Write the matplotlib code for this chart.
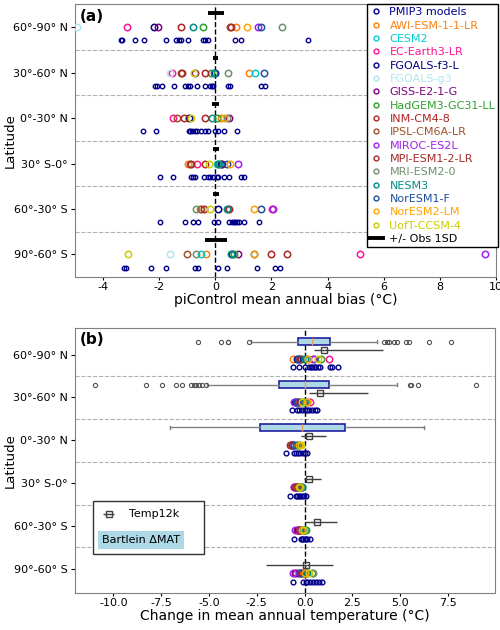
import numpy as np
import matplotlib
matplotlib.use('Agg')
import matplotlib.pyplot as plt
from matplotlib.lines import Line2D
from matplotlib.patches import Patch

plt.rcParams['axes.unicode_minus'] = False

nan = np.nan

regions = ['60°-90° N', '30°-60° N', '0°-30° N', '30° S-0°', '60°-30° S', '90°-60° S']

models = ['AWI-ESM-1-1-LR', 'CESM2', 'EC-Earth3-LR', 'FGOALS-f3-L', 'FGOALS-g3',
          'GISS-E2-1-G', 'HadGEM3-GC31-LL', 'INM-CM4-8', 'IPSL-CM6A-LR', 'MIROC-ES2L',
          'MPI-ESM1-2-LR', 'MRI-ESM2-0', 'NESM3', 'NorESM1-F', 'NorESM2-LM', 'UofT-CCSM-4']
colors = ['#ff7f0e', 'darkturquoise', 'deeppink', 'navy', '#b0e6f0',
          'purple', '#2ca02c', 'firebrick', 'sienna', '#a020f0',
          'brown', '#6e8f6e', 'darkcyan', '#1f4e9c', 'orange', '#cccc00']
pmip_color = 'darkblue'

# (a) piControl bias, one value per model (order as in `models`)
a_6090n = [0.73, nan, -3.15, -2.20, -4.94, -2.05, -0.45, -1.24, 0.51, 1.52, 0.57, 2.39, -0.81, 1.64, 1.14, nan]
a_3060n = [1.19, 1.43, -1.54, 0.00, -1.63, -0.74, -0.14, -0.36, -1.21, nan, -1.19, 0.45, -0.06, 1.73, nan, -0.77]
a_0030n = [0.20, nan, -1.51, -0.95, nan, 0.48, 0.06, -0.36, -1.35, nan, -1.13, 0.43, -0.12, nan, 0.30, -0.86]
a_3000s = [-0.98, 0.06, -0.64, 0.20, nan, 0.24, 0.10, -0.38, -0.92, 0.81, -0.85, nan, 0.12, 0.42, 0.54, -0.21]
a_6030s = [-0.56, nan, 2.02, 0.10, nan, nan, 0.45, 0.50, -0.50, 2.06, -0.42, -0.69, 0.42, 1.61, 1.37, -0.18]
a_9060s = [-0.32, -0.51, 5.14, 0.58, -1.63, 0.81, 0.65, 1.99, -1.00, 9.61, 2.54, -0.68, 0.57, 1.38, 1.37, -3.12]

pa_6090n = [-3.36, -3.33, -2.88, -2.55, -1.76, -1.40, -1.31, -1.21, -0.98, -0.45, -0.36, -0.26, 0.69, 0.93, 3.30]
pa_3060n = [-2.14, -2.08, -1.90, -1.48, -1.07, -0.98, -0.89, -0.64, -0.38, -0.18, -0.12, -0.10, 0.45, 0.54, 1.61, 1.76]
pa_0030n = [-2.56, -2.10, -0.95, -0.89, -0.83, -0.74, -0.64, -0.50, -0.36, -0.26, 0.00, 0.10, 0.32, 0.76]
pa_3000s = [-1.96, -1.51, -0.86, -0.80, -0.74, -0.42, -0.26, -0.18, -0.08, 0.06, 0.10, 0.30, 0.50, 0.93, 1.01]
pa_6030s = [-1.96, -1.07, -0.81, -0.60, -0.06, 0.10, 0.50, 0.60, 0.65, 0.71, 0.77, 0.83, 1.01, 1.55]
pa_9060s = [-3.27, -3.18, -2.29, -1.75, -0.71, -0.62, 0.10, 0.42, 1.49, 2.14, 2.29]

obs_mean = [0.02, 0.01, 0.01, 0.02, 0.02, 0.02]
obs_sd = [0.29, 0.10, 0.13, 0.10, 0.10, 0.40]

# (b) change in mean annual temperature
b_6090n = [-0.63, -0.10, 1.28, -0.42, nan, 0.45, 0.85, -0.20, -0.30, 0.50, -0.25, 0.10, 0.03, -0.35, 0.20, 0.68]
b_3060n = [-0.10, 0.00, 0.30, -0.50, nan, -0.45, 0.10, -0.35, -0.30, -0.55, -0.25, 0.05, -0.05, -0.40, 0.15, -0.15]
b_0030n = [-0.40, -0.30, -0.65, -0.60, nan, -0.70, -0.35, -0.75, -0.72, -0.62, -0.68, -0.30, -0.45, -0.55, -0.30, -0.20]
b_3000s = [-0.35, -0.15, -0.45, -0.40, nan, -0.55, -0.20, -0.40, -0.45, -0.55, -0.50, -0.25, -0.15, -0.30, -0.25, -0.30]
b_6030s = [-0.20, -0.05, -0.30, -0.35, nan, -0.40, 0.05, -0.30, -0.25, -0.48, -0.28, -0.10, 0.00, -0.15, -0.12, -0.05]
b_9060s = [-0.10, 0.05, -0.45, -0.30, nan, -0.50, 0.40, -0.20, -0.05, -0.60, -0.15, 0.45, 0.10, -0.25, 0.00, 0.25]

pb_6090n = [-0.63, -0.28, 0.00, 0.21, 0.35, 0.38, 0.52, 0.55, 0.68, 0.82, 1.35, 1.42, 1.72]
pb_3060n = [-0.66, -0.40, -0.28, -0.14, 0.00, 0.12, 0.24, 0.38, 0.52, 0.64]
pb_0030n = [-0.95, -0.57, -0.45, -0.33, -0.22, -0.10, 0.00, 0.12]
pb_3000s = [-0.78, -0.45, -0.38, -0.30, -0.22, -0.15, -0.05, 0.07]
pb_6030s = [-0.56, -0.21, -0.15, -0.08, 0.00, 0.08, 0.15, 0.26]
pb_9060s = [-0.61, -0.07, 0.05, 0.15, 0.30, 0.45, 0.60, 0.75, 0.92]

temp12k_mid = [1.02, 0.83, 0.23, 0.23, 0.66, 0.05]
temp12k_lo = [0.47, 0.24, -0.17, -0.05, 0.00, -2.00]
temp12k_hi = [4.11, 3.30, 1.11, 0.85, 1.70, 1.48]

# Bartlein boxes (only the three northern bands)
bart_whislo = [-2.78, -5.12, -7.03]
bart_q1 = [-0.35, -1.32, -2.31]
bart_med = [0.38, 0.00, -0.14]
bart_q3 = [1.35, 1.28, 2.12]
bart_whishi = [3.80, 4.81, 6.23]
bart_fliers_6090n = [-5.59, -4.36, -4.03, -3.98, -2.92, 4.15, 4.32, 4.41, 4.69, 4.81, 5.30, 5.47, 6.49, 7.67]
bart_fliers_3060n = [-10.94, -8.30, -7.47, -6.74, -6.39, -5.95, -5.78, -5.66, -5.52, -5.35, -5.17,
                     5.50, 5.56, 5.94, 8.98]
bart_fliers_0030n = []

bias_a = np.array([a_6090n, a_3060n, a_0030n, a_3000s, a_6030s, a_9060s])
pmip_a = [pa_6090n, pa_3060n, pa_0030n, pa_3000s, pa_6030s, pa_9060s]
delta_b = np.array([b_6090n, b_3060n, b_0030n, b_3000s, b_6030s, b_9060s])
pmip_b = [pb_6090n, pb_3060n, pb_0030n, pb_3000s, pb_6030s, pb_9060s]

ypos = np.arange(len(regions))[::-1].astype(float)

fig = plt.figure(figsize=(5, 6.3), dpi=100)
ax1 = fig.add_axes([0.15, 0.56, 0.842, 0.433])
ax2 = fig.add_axes([0.15, 0.059, 0.84, 0.421])

def common(ax):
    for y in np.arange(0.5, 5.0, 1.0):
        ax.axhline(y, color='#b0b0b0', ls='--', lw=0.8, zorder=1)
    ax.axvline(0, color='k', ls='--', lw=1, zorder=2)
    ax.set_yticks(ypos)
    ax.set_yticklabels(regions, fontsize=8)
    ax.tick_params(axis='y', length=3, pad=2)
    ax.tick_params(axis='x', labelsize=8, length=2, pad=1.5)
    ax.set_ylabel('Latitude', fontsize=9.5)
    ax.yaxis.set_label_coords(-0.138, 0.5)
    for s in ax.spines.values():
        s.set_color('gray')

# ---- panel (a)
common(ax1)
for i, y in enumerate(ypos):
    ax1.plot(pmip_a[i], np.full(len(pmip_a[i]), y - 0.29), 'o', ms=3.2, mfc='none',
             mec=pmip_color, mew=1, zorder=3)
for j, m in enumerate(models):
    ax1.plot(bias_a[:, j], ypos, 'o', ms=4.6, mfc='none', mec=colors[j], mew=1.1, zorder=4)
ax1.errorbar(obs_mean, ypos + 0.32, xerr=obs_sd, fmt='none', ecolor='k', elinewidth=2.8,
             capsize=0, zorder=4)
ax1.set_xlim(-5, 10)
ax1.set_ylim(-0.5, 5.5)
ax1.set_xticks([-4, -2, 0, 2, 4, 6, 8, 10])
ax1.set_xlabel('piControl mean annual bias (°C)', fontsize=10, labelpad=1)
ax1.text(0.012, 0.985, '(a)', transform=ax1.transAxes, fontsize=11, fontweight='bold',
         va='top', ha='left')

handles = [Line2D([], [], ls='none', marker='o', ms=3.5, mfc='none', mec=pmip_color)]
labels = ['PMIP3 models']
for j, m in enumerate(models):
    handles.append(Line2D([], [], ls='none', marker='o', ms=3.5, mfc='none', mec=colors[j]))
    labels.append(m)
handles.append(Line2D([], [], color='k', lw=2.8))
labels.append('+/- Obs 1SD')
leg = ax1.legend(handles, labels, loc='upper right', bbox_to_anchor=(1.005, 1.0),
                 borderaxespad=0, fontsize=8, handlelength=1.2, handletextpad=0.6,
                 labelspacing=0.3, borderpad=0.25, fancybox=False, framealpha=1,
                 edgecolor='k')
leg.set_zorder(10)
for t, c in zip(leg.get_texts(), [pmip_color] + colors + ['k']):
    t.set_color(c)

# ---- panel (b)
common(ax2)
stats = []
fliers = [bart_fliers_6090n, bart_fliers_3060n, bart_fliers_0030n]
for k in range(3):
    stats.append(dict(whislo=bart_whislo[k], q1=bart_q1[k], med=bart_med[k],
                      q3=bart_q3[k], whishi=bart_whishi[k], fliers=fliers[k]))
ax2.bxp(stats, positions=ypos[:3] + 0.3, widths=0.16, orientation='horizontal',
        patch_artist=True, manage_ticks=False,
        boxprops=dict(facecolor='lightblue', edgecolor='#2020a0', lw=1.2),
        medianprops=dict(color='#e8a060', lw=1),
        whiskerprops=dict(color='gray', lw=1),
        capprops=dict(color='gray', lw=1),
        flierprops=dict(marker='o', ms=3, mfc='none', mec='#555555', mew=0.8),
        zorder=3)
for i, y in enumerate(ypos):
    ax2.plot(pmip_b[i], np.full(len(pmip_b[i]), y - 0.3), 'o', ms=3.4, mfc='none',
             mec=pmip_color, mew=1, zorder=3)
for j, m in enumerate(models):
    ax2.plot(delta_b[:, j], ypos - 0.1, 'o', ms=4.6, mfc='none', mec=colors[j], mew=1.1, zorder=4)
t_mid = np.array(temp12k_mid)
xerr = [t_mid - np.array(temp12k_lo), np.array(temp12k_hi) - t_mid]
eb = ax2.errorbar(t_mid, ypos + 0.1, xerr=xerr, fmt='s', ms=5, mfc='none', mec='#404040',
                  ecolor='#404040', elinewidth=1, capsize=0, zorder=5)
ax2.set_xlim(-12, 9.95)
ax2.set_ylim(-0.56, 5.63)
ax2.set_xticks([-10, -7.5, -5, -2.5, 0, 2.5, 5, 7.5])
ax2.set_xticklabels(['%.1f' % v for v in [-10, -7.5, -5, -2.5, 0, 2.5, 5, 7.5]])
ax2.set_xlabel('Change in mean annual temperature (°C)', fontsize=10, labelpad=1)
ax2.text(0.012, 0.985, '(b)', transform=ax2.transAxes, fontsize=11, fontweight='bold',
         va='top', ha='left')

leg2 = ax2.legend([eb, Patch(facecolor='none', edgecolor='none')], ['Temp12k', 'Bartlein ΔMAT'],
                  loc='lower left', bbox_to_anchor=(0.043, 0.147, 0.264, 0.2), mode='expand',
                  borderaxespad=0, fontsize=8, fancybox=False, framealpha=1,
                  edgecolor='#333333', handlelength=1.2, handletextpad=1.2,
                  labelspacing=1.4, borderpad=0.8)
# the Bartlein label sits on a light-blue band starting at the handle column
row = leg2._legend_handle_box.get_children()[0].get_children()[1]
row._children = row._children[1:]
leg2.get_texts()[1].set_bbox(dict(boxstyle='square,pad=0.35', facecolor='lightblue',
                                  edgecolor='none'))

fig.savefig('out.png', dpi=100)
